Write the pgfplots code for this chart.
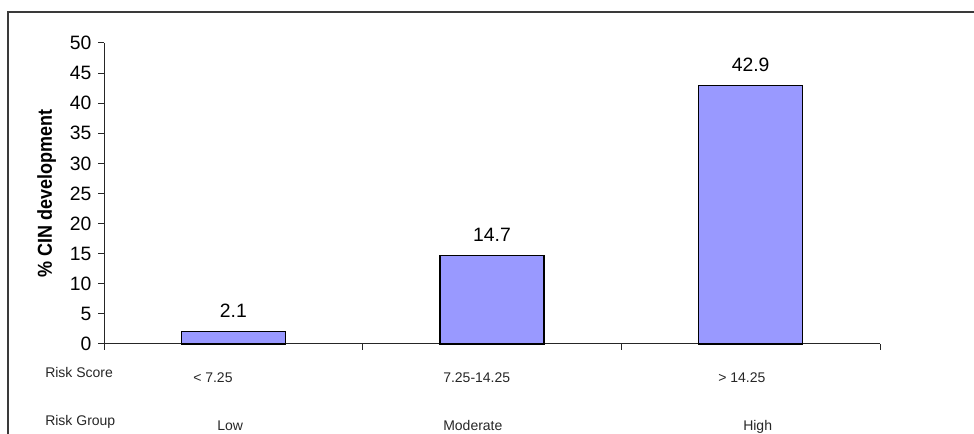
\documentclass[border=0pt]{standalone}
\usepackage{pgfplots}
\pgfplotsset{compat=1.18}
\usepackage{fontspec}
\setmainfont{Liberation Sans}

\definecolor{barblue}{HTML}{9999FF}
\definecolor{framegray}{HTML}{3A3A3A}

\begin{document}
\begin{tikzpicture}[x=1pt,y=1pt]
  % page area
  \useasboundingbox (0,0) rectangle (730.5,325.5);
  % outer frame (left and top edges)
  \draw[framegray, line width=1.5pt] (6,-2) -- (6,316.5) -- (733,316.5);

  \begin{axis}[
    at={(78pt,67.5pt)}, anchor=south west,
    scale only axis,
    width=582pt, height=225.75pt,
    xmin=-0.5, xmax=2.5,
    ymin=0, ymax=50,
    axis x line=bottom, axis y line=left,
    axis line style={black!85, line width=0.75pt, -},
    ytick={0,5,...,50},
    xtick={-0.5,0.5,1.5,2.5},
    xticklabels={},
    tick align=outside,
    major tick length=4.5pt,
    tick style={black!85, line width=0.75pt},
    yticklabel style={font=\fontsize{14.5}{14.5}\selectfont, xshift=-1.5pt},
    /pgf/number format/assume math mode=true,
    ylabel={\textbf{\% CIN development}},
    ylabel style={font=\fontsize{13.5}{13.5}\selectfont, yscale=1.12},
    ylabel shift=3pt,
    clip=false,
    ybar,
    bar width=78pt,
    nodes near coords,
    every node near coord/.append style={font=\fontsize{14.5}{14.5}\selectfont, anchor=base, yshift=10.5pt},
  ]
    \addplot[fill=barblue, draw=black, line width=1.1pt]
      coordinates {(0,2.1) (1,14.7) (2,42.9)};
  \end{axis}

  % category rows below the axis
  \begin{scope}[every node/.style={font=\fontsize{10.5}{10.5}\selectfont, inner sep=0pt, anchor=base west, text=black!85}]
    \node at (33.75,42) {Risk Score};
    \node at (144.75,38.6) {< 7.25};
    \node at (332.25,38.6) {7.25-14.25};
    \node at (538.5,38.6) {> 14.25};
    \node at (33.75,6.2) {Risk Group};
    \node at (162.75,2.5) {Low};
    \node at (332.25,2.5) {Moderate};
    \node at (557.25,2.5) {High};
  \end{scope}
\end{tikzpicture}
\end{document}
